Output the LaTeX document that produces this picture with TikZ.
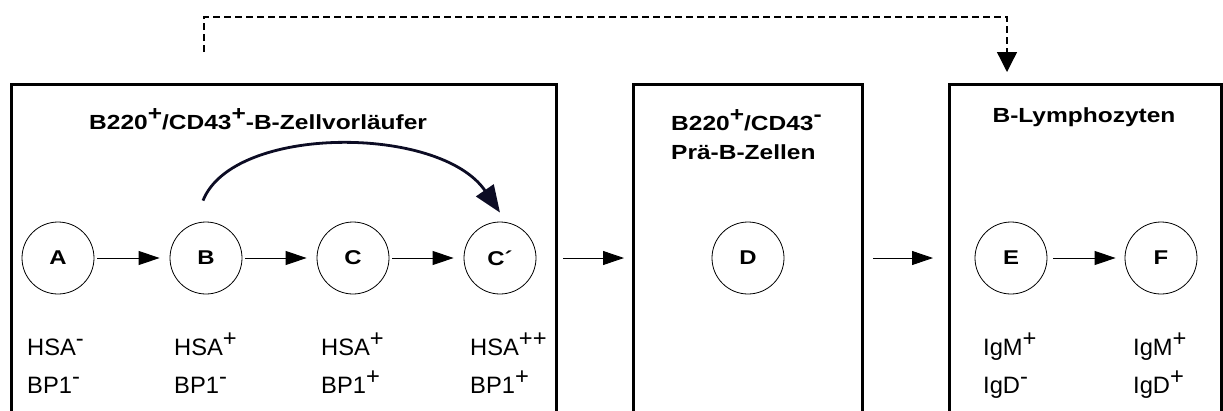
\documentclass[tikz,border=0pt]{standalone}
\usepackage{fontspec}
\setmainfont{Liberation Sans}[BoldFeatures={FakeStretch=1.2}]
\usetikzlibrary{arrows.meta,calc}
\definecolor{navy}{RGB}{12,12,36}
\newcommand{\supr}[1]{\raisebox{0.40em}{#1}}
\newcommand{\supb}[1]{\raisebox{0.42em}{#1}}
\tikzset{
  panel/.style={draw, line width=3bp, inner sep=0pt, outer sep=0pt, anchor=north west, minimum height=360bp},
  cell/.style={circle, draw, line width=0.8bp, minimum size=72bp, inner sep=0pt, font=\bfseries\fontsize{20}{24}\selectfont},
  arr/.style={-{Triangle[length=21bp,width=14bp]}, line width=0.9bp},
  lab/.style={anchor=base west, inner sep=0pt, font=\fontsize{23.8}{28}\selectfont},
  ttl/.style={inner sep=0pt, font=\bfseries\fontsize{20.5}{25}\selectfont},
  bigarr/.style={-{Triangle[length=27bp,width=21bp]}, line width=2.8bp, draw=navy},
  dasharr/.style={-{Triangle[length=20bp,width=20bp]}, line width=1.3bp, dash pattern=on 7bp off 4bp},
}
\begin{document}
\begin{tikzpicture}[x=1bp,y=-1bp]
\useasboundingbox (0,0) rectangle (1223,410);
\clip (0,0) rectangle (1223,410);
% panels
\node[panel, minimum width=545bp] (box1) at (11,84) {};
\node[panel, minimum width=229bp] (box2) at (633,84) {};
\node[panel, minimum width=272bp] (box3) at (949,84) {};
% titles
\node[ttl, anchor=base west] (t1) at (89,129.5) {B220\supb{+}/CD43\supb{+}-B-Zellvorläufer};
\node[ttl, anchor=base west] (t2a) at (671,130) {B220\supb{+}/CD43\supb{-}};
\node[ttl, anchor=base west] (t2b) at (671,159) {Prä-B-Zellen};
\node[ttl, anchor=base] (t3) at (1084,122) {B-Lymphozyten};
% cells
\node[cell] (A) at (58,258) {A};
\node[cell] (B) at (206,258) {B};
\node[cell] (C) at (353,258) {C};
\node[cell] (Cp) at (500,258) {C´};
\node[cell] (D) at (748,258) {D};
\node[cell] (E) at (1011,258) {E};
\node[cell] (F) at (1161,258) {F};
% arrows
\draw[arr, shorten <=3bp, shorten >=10bp] (A) -- (B);
\draw[arr, shorten <=3bp, shorten >=10bp] (B) -- (C);
\draw[arr, shorten <=3bp, shorten >=10bp] (C) -- (Cp);
\draw[arr, shorten <=7bp, shorten >=9bp] (box1.east |- Cp) -- (box2.west |- Cp);
\draw[arr, shorten <=11bp, shorten >=16bp] (box2.east |- D) -- (box3.west |- D);
\draw[arr, shorten <=6bp, shorten >=9bp] (E) -- (F);
\draw[bigarr] ([shift={(-3bp,21bp)}]B.north) .. controls +(30,-76) and +(-60,-88) .. ([yshift=9bp]Cp.north);
% dashed feedback
\coordinate (dstart) at (204,52);
\coordinate (dtop) at (204,17);
\coordinate (dend) at (1007,72);
\draw[dasharr] (dstart) -- (dtop) -| (dend);
% marker labels
\node[lab] (a1) at (27,355.5) {HSA\supr{-}};
\node[lab] (a2) at (27,393.5) {BP1\supr{-}};
\node[lab] (b1) at (174,355.5) {HSA\supr{+}};
\node[lab] (b2) at (174,393.5) {BP1\supr{-}};
\node[lab] (c1) at (321,355.5) {HSA\supr{+}};
\node[lab] (c2) at (321,393.5) {BP1\supr{+}};
\node[lab] (d1) at (470,355.5) {HSA\supr{++}};
\node[lab] (d2) at (470,393.5) {BP1\supr{+}};
\node[lab] (e1) at (983,355.5) {IgM\supr{+}};
\node[lab] (e2) at (983,393.5) {IgD\supr{-}};
\node[lab] (f1) at (1133,355.5) {IgM\supr{+}};
\node[lab] (f2) at (1133,393.5) {IgD\supr{+}};
\end{tikzpicture}
\end{document}
